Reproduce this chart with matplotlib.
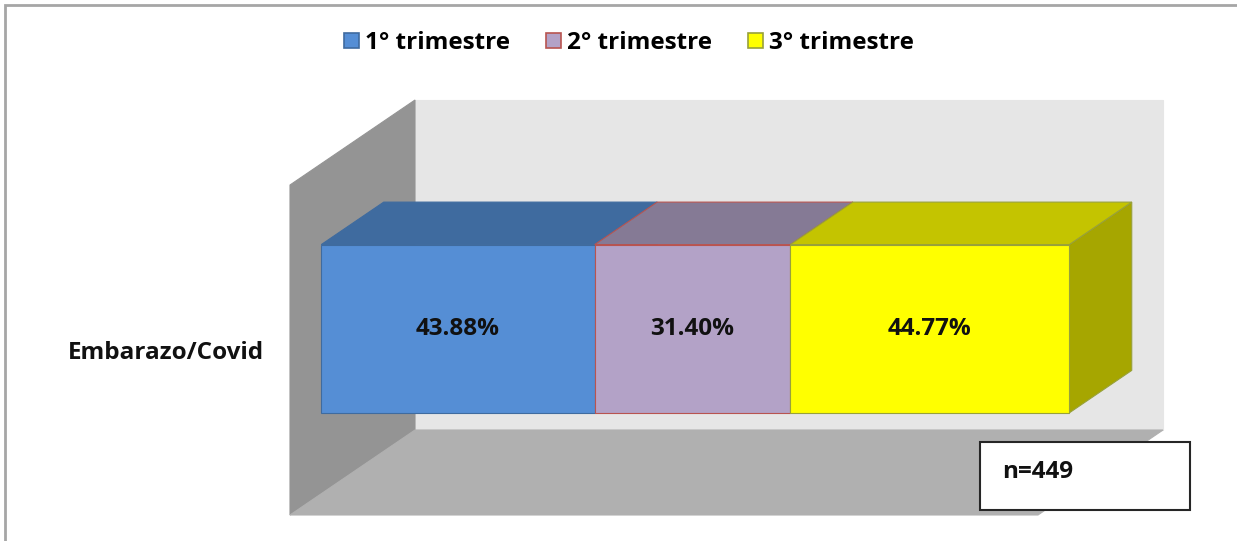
import matplotlib
matplotlib.use('Agg')
import matplotlib.pyplot as plt
from matplotlib.patches import Polygon, Patch, Rectangle
import numpy as np

# data
category = 'Embarazo/Covid'
series = ['1° trimestre', '2° trimestre', '3° trimestre']
values = [43.88, 31.40, 44.77]
labels = ['43.88%', '31.40%', '44.77%']
n_text = 'n=449'

front_cols = ['#558ed5', '#b3a2c7', '#ffff00']
top_cols = ['#3f6b9f', '#857a95', '#c4c400']
side_cols = ['#3f6b9f', '#857a95', '#a6a600']
edge_cols = ['#3f6b9f', '#b85450', '#98a13a']

W, H = 1237, 541
FS = 17.5
fig = plt.figure(figsize=(W / 100, H / 100), dpi=100)
plt.rcParams['font.family'] = ['Open Sans', 'DejaVu Sans']

# outer chart border (only top/left edges visible in the picture)
fig.add_artist(Rectangle((5 / W, -0.1), 1.2, (H - 5) / H + 0.1,
                         transform=fig.transFigure, fill=False,
                         edgecolor='#a6a6a6', linewidth=2))

# front plane of the 3d box, in pixels
ax = fig.add_axes([290 / W, (H - 515) / H, 748 / W, 330 / H])
total = sum(values)
ax.set_xlim(0, total)
ax.set_ylim(0, 1)
for s in ax.spines.values():
    s.set_visible(False)
ax.set_xticks([])
ax.set_yticks([0.5])
ax.set_yticklabels([category], fontsize=FS, fontweight='bold', color='#111111')
ax.tick_params(axis='y', length=0, pad=19)
ax.patch.set_visible(False)

# depth vector (full depth) in data units
ddx = total * 125 / 748
ddy = 85 / 330


def P(v, h, t):
    return (v + t * ddx, h + t * ddy)


def face(pts, fc, ec=None, z=1, lw=0.8):
    ax.add_patch(Polygon(pts, closed=True, facecolor=fc,
                         edgecolor=ec if ec else fc, linewidth=lw,
                         zorder=z, clip_on=False))


# walls
face([P(0, 0, 1), P(total, 0, 1), P(total, 1, 1), P(0, 1, 1)], '#e6e6e6', z=1)
face([P(0, 0, 0), P(0, 0, 1), P(0, 1, 1), P(0, 1, 0)], '#949494', z=2)
face([P(0, 0, 0), P(total, 0, 0), P(total, 0, 1), P(0, 0, 1)], '#b0b0b0', z=2)

t0, t1 = 0.25, 0.75
h0, h1 = 0.245, 0.755
left = np.concatenate([[0], np.cumsum(values)[:-1]])
for i, (l, v) in enumerate(zip(left, values)):
    r = l + v
    face([P(r, h0, t0), P(r, h0, t1), P(r, h1, t1), P(r, h1, t0)],
         side_cols[i], edge_cols[i], z=3)
for i, (l, v) in enumerate(zip(left, values)):
    r = l + v
    face([P(l, h1, t0), P(r, h1, t0), P(r, h1, t1), P(l, h1, t1)],
         top_cols[i], edge_cols[i], z=4)
for i, (l, v) in enumerate(zip(left, values)):
    r = l + v
    face([P(l, h0, t0), P(r, h0, t0), P(r, h1, t0), P(l, h1, t0)],
         front_cols[i], edge_cols[i], z=5)
    cx, cy = P(l + v / 2, 0.5, t0)
    ax.text(cx, cy, labels[i], ha='center', va='center', fontsize=FS,
            fontweight='bold', color='#111111', zorder=6)

# legend
handles = [Patch(facecolor=front_cols[i], edgecolor=edge_cols[i], linewidth=1.2)
           for i in range(3)]
fig.legend(handles, series, loc='center', bbox_to_anchor=(629 / W, 1 - 43 / H),
           ncol=3, frameon=False,
           prop={'weight': 'bold', 'size': FS},
           handlelength=0.6, handleheight=0.6, handletextpad=0.25,
           columnspacing=1.5)

# n box
fig.text(1002 / W, 1 - 472 / H, n_text, ha='left', va='center', fontsize=FS,
         fontweight='bold', color='#111111')
fig.add_artist(Rectangle((980 / W, 1 - 510 / H), 210 / W, 68 / H,
                         transform=fig.transFigure, facecolor='white',
                         edgecolor='#262626', linewidth=1.5, zorder=0.5))

fig.savefig('out.png', dpi=100)
